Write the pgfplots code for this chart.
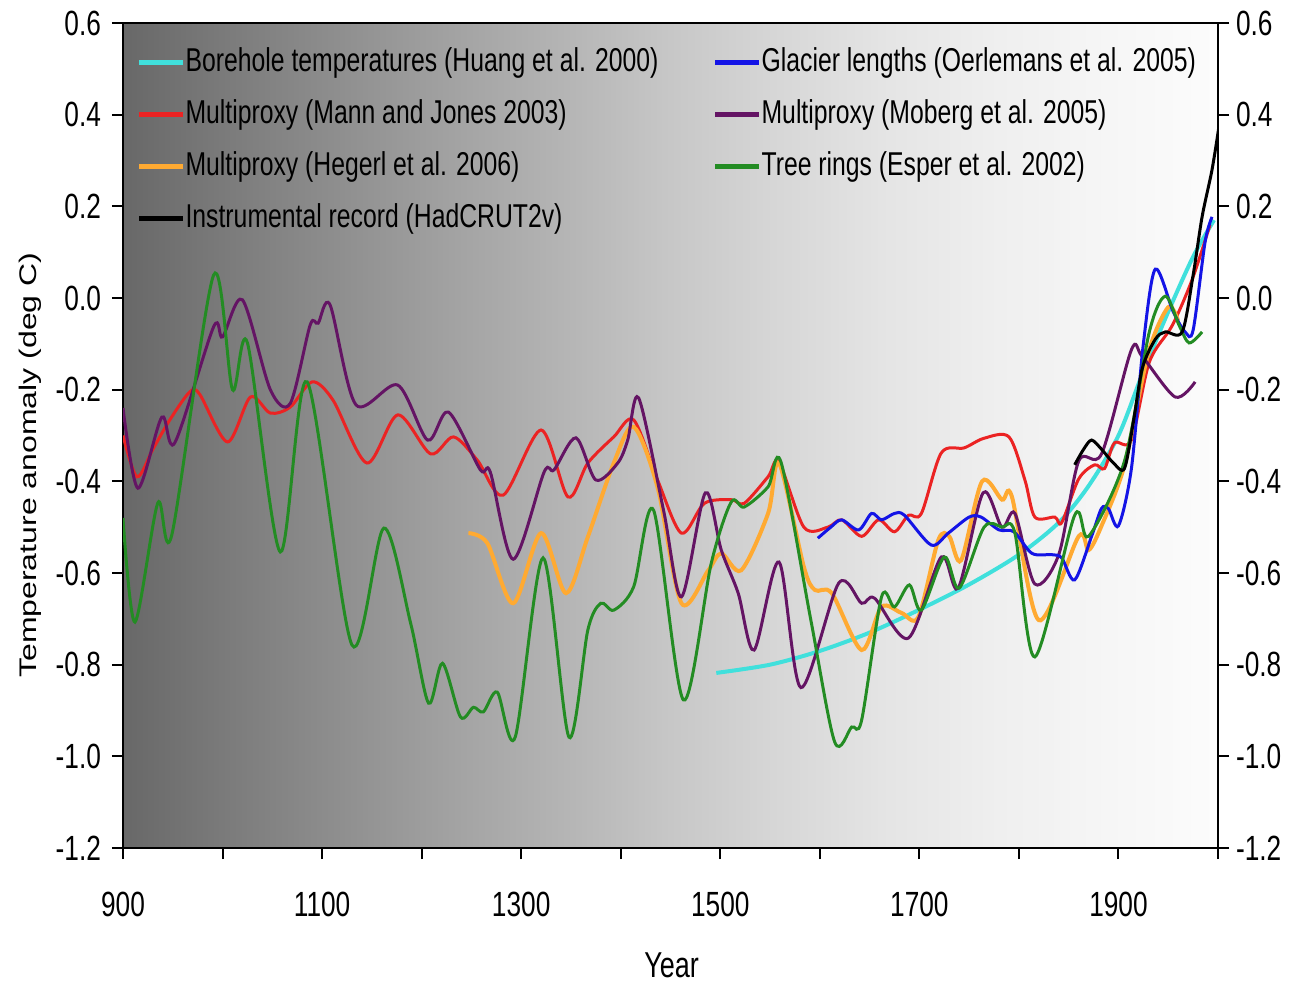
\documentclass[border=0pt]{standalone}
\usepackage{pgfplots}
\pgfplotsset{compat=1.18}
\usepackage{graphicx}
\usepackage{fontspec}
\setmainfont{Liberation Sans}[FakeStretch=0.75]
\newfontfamily\plainfont{Liberation Sans}

\definecolor{cborehole}{RGB}{64,224,220}
\definecolor{cglacier}{RGB}{20,20,230}
\definecolor{cmann}{RGB}{235,35,35}
\definecolor{cmoberg}{RGB}{100,20,100}
\definecolor{chegerl}{RGB}{255,170,50}
\definecolor{cesper}{RGB}{35,140,35}

\definecolor{g0}{RGB}{104,104,104}
\definecolor{g1}{RGB}{124,124,124}
\definecolor{g2}{RGB}{143,143,143}
\definecolor{g3}{RGB}{162,162,162}
\definecolor{g4}{RGB}{180,180,180}
\definecolor{g5}{RGB}{199,199,199}
\definecolor{g6}{RGB}{215,215,215}
\definecolor{g7}{RGB}{229,229,229}
\definecolor{g8}{RGB}{239,239,239}
\definecolor{g9}{RGB}{246,246,246}
\definecolor{g10}{RGB}{252,252,252}
\pgfdeclarehorizontalshading{bggrad}{100bp}{color(0bp)=(g0); color(25bp)=(g0); color(30bp)=(g1); color(35bp)=(g2); color(40bp)=(g3); color(45bp)=(g4); color(50bp)=(g5); color(55bp)=(g6); color(60bp)=(g7); color(65bp)=(g8); color(70bp)=(g9); color(75bp)=(g10); color(100bp)=(g10)}

\begin{document}
\begin{tikzpicture}
\useasboundingbox (-61.5pt,-67pt) rectangle (585pt,424pt);
\begin{axis}[
  at={(0,0)}, anchor=south west,
  scale only axis, width=547.5pt, height=412.5pt,
  xmin=900, xmax=2000, ymin=-1.2, ymax=0.6,
  axis background/.style={shade, shading=bggrad},
  axis line style={line width=1.1pt},
  xtick={900,1000,1100,1200,1300,1400,1500,1600,1700,1800,1900,2000},
  xticklabels={900,,1100,,1300,,1500,,1700,,1900,},
  ytick={-1.2,-1.0,-0.8,-0.6,-0.4,-0.2,0,0.2,0.4,0.6},
  yticklabels={-1.2,-1.0,-0.8,-0.6,-0.4,-0.2,0.0,0.2,0.4,0.6},
  tick align=outside, xtick pos=lower, ytick pos=left,
  major tick length=5.5pt,
  tick style={line width=1pt, black},
  ticklabel style={font=\fontsize{17.5}{20}\selectfont},
  xticklabel style={yshift=-13pt},
  yticklabel style={xshift=-2pt},
  xlabel={Year},
  xlabel style={font=\fontsize{18}{20}\selectfont, at={(axis description cs:0.501,-0.142)}, anchor=center},
  ylabel={\scalebox{0.75}[1]{\rotatebox{90}{\plainfont\fontsize{16}{19}\selectfont Temperature anomaly (deg C)}}},
  ylabel style={rotate=-90, at={(axis description cs:-0.085,0.464)}, anchor=center},
  legend columns=2,
  legend style={at={(axis description cs:0.0064,0.976)}, anchor=north west, draw=none, fill=none,
    font=\fontsize{16.5}{19}\selectfont,
    /tikz/every even column/.append style={column sep=27pt},
    row sep=10.5pt,
    nodes={inner xsep=0pt, inner ysep=0pt, text height=12pt, text depth=3.5pt}},
  legend cell align=left,
  legend image code/.code={\draw[#1, line width=2.6pt] (0pt,0pt) -- (22pt,0pt);},
]
\addlegendimage{cborehole}\addlegendentry{Borehole temperatures (Huang et al. 2000)}
\addlegendimage{cglacier}\addlegendentry{Glacier lengths (Oerlemans et al. 2005)}
\addlegendimage{cmann}\addlegendentry{Multiproxy (Mann and Jones 2003)}
\addlegendimage{cmoberg}\addlegendentry{Multiproxy (Moberg et al. 2005)}
\addlegendimage{chegerl}\addlegendentry{Multiproxy (Hegerl et al. 2006)}
\addlegendimage{cesper}\addlegendentry{Tree rings (Esper et al. 2002)}
\addlegendimage{black}\addlegendentry{Instrumental record (HadCRUT2v)}

% Borehole
\addplot[cborehole, line width=2pt, smooth, forget plot] coordinates {
(1496,-0.818)(1550,-0.800)(1600,-0.770)(1650,-0.730)(1700,-0.680)(1750,-0.625)(1800,-0.560)(1840,-0.490)(1870,-0.410)(1900,-0.300)(1925,-0.160)(1950,-0.030)(1975,0.090)(1996,0.170)};
% Mann and Jones
\addplot[cmann, line width=1.5pt, smooth, forget plot] coordinates {
(900,-0.30)(914,-0.39)(930,-0.33)(947,-0.266)(967,-0.205)(977,-0.21)(1005,-0.314)(1028,-0.216)(1048,-0.251)(1068,-0.238)(1090,-0.183)(1111,-0.223)(1145,-0.36)(1176,-0.255)(1209,-0.34)(1232,-0.303)(1256,-0.354)(1282,-0.43)(1320,-0.288)(1347,-0.434)(1367,-0.36)(1393,-0.303)(1413,-0.266)(1437,-0.397)(1461,-0.513)(1484,-0.448)(1511,-0.44)(1524,-0.448)(1548,-0.39)(1559,-0.358)(1584,-0.5)(1608,-0.5)(1622,-0.484)(1642,-0.52)(1659,-0.484)(1675,-0.51)(1689,-0.474)(1702,-0.47)(1722,-0.338)(1745,-0.327)(1765,-0.306)(1790,-0.303)(1806,-0.397)(1816,-0.478)(1836,-0.478)(1843,-0.49)(1860,-0.395)(1876,-0.364)(1886,-0.372)(1896,-0.316)(1913,-0.31)(1931,-0.14)(1954,-0.06)(1974,0.04)(1992,0.16)};
% Hegerl
\addplot[chegerl, line width=2pt, smooth, forget plot] coordinates {
(1247,-0.513)(1266,-0.535)(1292,-0.666)(1320,-0.513)(1345,-0.644)(1367,-0.521)(1393,-0.36)(1413,-0.281)(1437,-0.413)(1461,-0.666)(1488,-0.594)(1501,-0.557)(1521,-0.594)(1548,-0.47)(1559,-0.36)(1584,-0.587)(1595,-0.637)(1612,-0.644)(1642,-0.768)(1662,-0.674)(1682,-0.687)(1699,-0.696)(1719,-0.528)(1730,-0.52)(1742,-0.572)(1763,-0.4)(1783,-0.44)(1793,-0.434)(1820,-0.703)(1860,-0.52)(1870,-0.55)(1883,-0.497)(1906,-0.365)(1930,-0.12)(1950,-0.02)(1960,-0.05)};
% Moberg
\addplot[cmoberg, line width=1.5pt, smooth, forget plot] coordinates {
(900,-0.24)(915,-0.415)(939,-0.26)(952,-0.316)(991,-0.063)(1000,-0.085)(1020,-0.004)(1048,-0.2)(1068,-0.23)(1088,-0.059)(1096,-0.055)(1108,-0.015)(1134,-0.233)(1176,-0.19)(1206,-0.31)(1227,-0.249)(1259,-0.375)(1269,-0.38)(1292,-0.57)(1323,-0.38)(1333,-0.375)(1355,-0.305)(1375,-0.397)(1397,-0.36)(1407,-0.31)(1418,-0.218)(1443,-0.463)(1461,-0.652)(1485,-0.425)(1501,-0.55)(1518,-0.644)(1534,-0.768)(1559,-0.576)(1581,-0.85)(1619,-0.622)(1642,-0.666)(1655,-0.655)(1689,-0.742)(1722,-0.565)(1739,-0.633)(1764,-0.425)(1783,-0.5)(1796,-0.47)(1816,-0.624)(1840,-0.56)(1860,-0.356)(1883,-0.34)(1913,-0.113)(1924,-0.128)(1957,-0.216)(1977,-0.183)};
% Glacier
\addplot[cglacier, line width=1.5pt, smooth, forget plot] coordinates {
(1598,-0.524)(1611,-0.5)(1622,-0.484)(1639,-0.506)(1652,-0.47)(1662,-0.484)(1675,-0.47)(1685,-0.474)(1712,-0.539)(1729,-0.513)(1750,-0.478)(1762,-0.478)(1780,-0.506)(1795,-0.51)(1813,-0.557)(1833,-0.56)(1843,-0.567)(1856,-0.615)(1873,-0.52)(1883,-0.459)(1890,-0.46)(1900,-0.497)(1913,-0.372)(1925,-0.1)(1937,0.063)(1955,-0.03)(1967,-0.074)(1975,-0.07)(1987,0.122)(1994,0.177)};
% Esper
\addplot[cesper, line width=1.5pt, smooth, forget plot] coordinates {
(900,-0.48)(912,-0.707)(935,-0.447)(949,-0.517)(991,0.05)(1010,-0.2)(1025,-0.098)(1058,-0.554)(1085,-0.183)(1130,-0.757)(1162,-0.502)(1189,-0.71)(1207,-0.884)(1221,-0.797)(1239,-0.914)(1252,-0.893)(1262,-0.903)(1276,-0.86)(1294,-0.958)(1322,-0.567)(1348,-0.958)(1367,-0.724)(1380,-0.666)(1393,-0.681)(1413,-0.63)(1433,-0.463)(1463,-0.877)(1491,-0.578)(1511,-0.445)(1524,-0.456)(1548,-0.412)(1561,-0.358)(1591,-0.703)(1615,-0.969)(1632,-0.936)(1642,-0.921)(1662,-0.652)(1675,-0.674)(1690,-0.626)(1702,-0.681)(1725,-0.565)(1740,-0.633)(1765,-0.5)(1783,-0.5)(1796,-0.513)(1816,-0.783)(1856,-0.474)(1870,-0.52)(1906,-0.356)(1931,-0.074)(1947,0.004)(1961,-0.06)(1971,-0.098)(1984,-0.074)};
% HadCRUT2v
\addplot[black, line width=1.5pt, smooth, forget plot] coordinates {
(1856,-0.364)(1865,-0.33)(1873,-0.31)(1883,-0.33)(1895,-0.36)(1906,-0.372)(1915,-0.27)(1924,-0.153)(1937,-0.09)(1947,-0.074)(1964,-0.074)(1975,0.05)(1984,0.177)(1994,0.28)(2001,0.375)};
\end{axis}
\begin{axis}[
  at={(0,0)}, anchor=south west,
  scale only axis, width=547.5pt, height=412.5pt,
  xmin=900, xmax=2000, ymin=-1.2, ymax=0.6,
  axis x line=none, axis y line*=right,
  axis line style={line width=1.1pt, -},
  ytick={-1.2,-1.0,-0.8,-0.6,-0.4,-0.2,0,0.2,0.4,0.6},
  yticklabels={-1.2,-1.0,-0.8,-0.6,-0.4,-0.2,0.0,0.2,0.4,0.6},
  tick align=outside, ytick pos=right, yticklabel pos=right,
  major tick length=5.5pt,
  tick style={line width=1pt, black},
  ticklabel style={font=\fontsize{17.5}{20}\selectfont},
]
\end{axis}
\end{tikzpicture}
\end{document}
